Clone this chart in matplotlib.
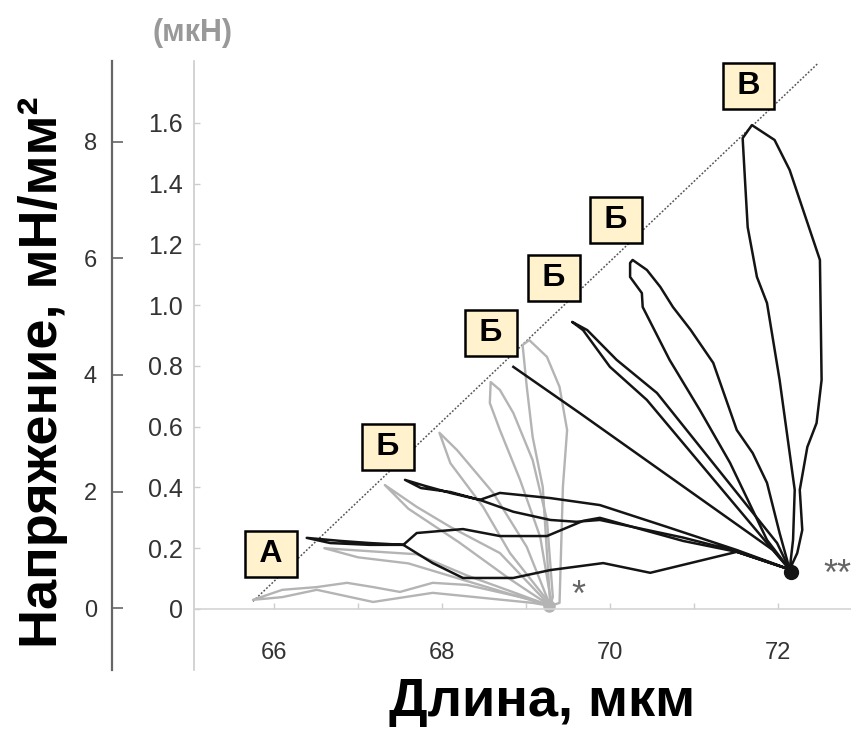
import matplotlib
matplotlib.use('Agg')
import matplotlib.pyplot as plt

plt.rcParams['font.family'] = ['Liberation Sans', 'DejaVu Sans']

# length (мкм) / force (мкН) loops, all start and end at the isometric point
# grey: series ending at 69.3 мкм
g1_len = [69.29, 69.08, 68.30, 67.89, 67.50, 67.18, 66.87, 66.51, 66.10, 65.75,
          66.10, 66.51, 67.18, 67.89, 69.08, 69.29]
g1_force = [0.01, 0.030, 0.079, 0.086, 0.056, 0.072, 0.086, 0.072, 0.063, 0.030,
            0.039, 0.063, 0.023, 0.053, 0.020, 0.01]
g2_len = [69.29, 68.90, 68.30, 67.70, 67.14, 66.60, 67.00, 67.60, 68.20, 68.80, 69.29]
g2_force = [0.01, 0.05, 0.11, 0.18, 0.19, 0.20, 0.17, 0.15, 0.10, 0.05, 0.01]
g3_len = [69.29, 68.69, 68.10, 67.70, 67.32, 67.60, 68.20, 68.80, 69.29]
g3_force = [0.01, 0.184, 0.270, 0.336, 0.408, 0.33, 0.22, 0.10, 0.01]
g4_len = [69.29, 69.01, 68.61, 68.18, 67.97, 68.10, 68.49, 68.81, 69.25, 69.29]
g4_force = [0.01, 0.204, 0.382, 0.523, 0.58, 0.48, 0.336, 0.184, 0.03, 0.01]
g5_len = [69.29, 69.32, 69.25, 69.08, 68.85, 68.69, 68.58, 68.57, 68.69, 68.93, 69.17, 69.29]
g5_force = [0.01, 0.04, 0.293, 0.490, 0.645, 0.721, 0.747, 0.678, 0.589, 0.425, 0.237, 0.04]
g6_len = [69.29, 69.40, 69.44, 69.49, 69.40, 69.25, 69.04, 68.96, 69.01, 69.08, 69.20, 69.25, 69.29]
g6_force = [0.01, 0.02, 0.402, 0.589, 0.731, 0.830, 0.885, 0.869, 0.731, 0.566, 0.402, 0.184, 0.01]

# black: series ending at 72.15 мкм
a_len = [72.14, 71.51, 70.48, 69.92, 69.29, 68.85, 68.25, 67.89, 67.54, 67.14, 66.79, 66.39,
         66.67, 67.14, 67.54, 67.70, 68.25, 68.69, 69.25, 69.68, 69.88, 70.87, 71.51, 72.14]
a_force = [0.13, 0.188, 0.119, 0.151, 0.128, 0.102, 0.102, 0.151, 0.211, 0.217, 0.224, 0.234,
           0.217, 0.211, 0.211, 0.250, 0.263, 0.240, 0.240, 0.290, 0.300, 0.224, 0.188, 0.13]
b1_len = [72.14, 71.51, 70.68, 69.88, 69.29, 68.69, 68.45, 68.10, 67.80, 67.56,
          67.75, 68.10, 68.45, 68.85, 69.29, 69.60, 69.88, 70.87, 71.51, 72.14]
b1_force = [0.13, 0.194, 0.270, 0.342, 0.365, 0.382, 0.359, 0.382, 0.405, 0.425,
            0.398, 0.385, 0.359, 0.320, 0.293, 0.287, 0.293, 0.235, 0.190, 0.13]
b2_len = [68.85, 69.64, 71.94, 72.14]
b2_force = [0.797, 0.645, 0.194, 0.13]
b3_len = [72.14, 71.99, 70.56, 70.08, 69.73, 69.55, 69.68, 70.00, 70.44, 71.87, 72.14]
b3_force = [0.13, 0.217, 0.711, 0.820, 0.918, 0.945, 0.918, 0.797, 0.688, 0.217, 0.13]
b4_len = [72.14, 72.02, 71.87, 71.70, 71.51, 71.23, 70.96, 70.75, 70.60, 70.44, 70.27,
          70.24, 70.24, 70.38, 70.39, 70.71, 71.07, 71.43, 71.87, 72.14]
b4_force = [0.13, 0.250, 0.415, 0.513, 0.589, 0.810, 0.919, 0.994, 1.060, 1.116, 1.149,
            1.139, 1.093, 1.040, 0.994, 0.820, 0.655, 0.481, 0.227, 0.13]
v_len = [72.14, 72.23, 72.29, 72.26, 72.35, 72.46, 72.52, 72.50, 72.14, 71.96, 71.69,
         71.58, 71.61, 71.64, 71.75, 71.87, 72.02, 72.20, 72.18, 72.14]
v_force = [0.13, 0.184, 0.260, 0.392, 0.533, 0.612, 0.754, 1.149, 1.445, 1.544, 1.593,
           1.550, 1.402, 1.257, 1.093, 1.007, 0.754, 0.392, 0.227, 0.13]

# peak labels
peak_names = ['А', 'Б', 'Б', 'Б', 'Б', 'В']
peak_len = [65.96, 67.36, 68.58, 69.33, 70.07, 71.65]
peak_force = [0.181, 0.533, 0.908, 1.090, 1.280, 1.722]

# dotted line through the peaks
diag_len = [65.75, 72.48]
diag_force = [0.025, 1.797]

force_ticks = [0, 0.2, 0.4, 0.6, 0.8, 1.0, 1.2, 1.4, 1.6]
force_labels = ['0', '0.2', '0.4', '0.6', '0.8', '1.0', '1.2', '1.4', '1.6']
stress_ticks = [0, 2, 4, 6, 8]
len_ticks = [66, 68, 70, 72]
len_minor = [67, 69, 71]

W, H = 851, 729
fig = plt.figure(figsize=(W / 100, H / 100), dpi=100)
rect = [194 / W, 1 - 670 / H, 1 - 194 / W, (670 - 61) / H]
ax = fig.add_axes(rect)
ax.set_xlim(65.048, 72.87)
ax.set_ylim(-0.201, 1.804)

grey = '#b4b4b4'
for xs, ys in [(g1_len, g1_force), (g2_len, g2_force), (g3_len, g3_force),
               (g4_len, g4_force), (g5_len, g5_force), (g6_len, g6_force)]:
    ax.plot(xs, ys, color=grey, lw=1.7, solid_joinstyle='round', zorder=2)
ax.plot([69.28], [0.01], 'o', color=grey, ms=8, zorder=2)

for xs, ys in [(a_len, a_force), (b1_len, b1_force), (b2_len, b2_force),
               (b3_len, b3_force), (b4_len, b4_force), (v_len, v_force)]:
    ax.plot(xs, ys, color='#141414', lw=1.8, solid_joinstyle='round', zorder=3)
ax.plot([72.15], [0.12], 'o', color='#141414', ms=10, zorder=3)

ax.plot(diag_len, diag_force, color='#555555', lw=1.1, ls=(0, (1.2, 1.2)), zorder=1)

for s, x, y in zip(peak_names, peak_len, peak_force):
    ax.text(x, y, '\u2009' + s + '\u2009', ha='center', va='center', fontsize=23,
            fontweight='bold', color='black', zorder=5,
            bbox=dict(boxstyle='square,pad=0.25', fc='#FFF2CC', ec='black', lw=1.8))

ax.text(69.62, 0.04, '*', ha='center', va='center', fontsize=26, color='#666666')
ax.text(72.71, 0.11, '**', ha='center', va='center', fontsize=26, color='#666666',
        clip_on=False)

# inner axes: force
for side in ['top', 'right']:
    ax.spines[side].set_visible(False)
ax.spines['bottom'].set_position(('data', 0))
ax.spines['bottom'].set_color('#d4d4d4')
ax.spines['bottom'].set_linewidth(1.2)
ax.spines['left'].set_color('#cccccc')
ax.spines['left'].set_linewidth(1.2)
ax.set_xticks(len_ticks)
ax.set_xticks(len_minor, minor=True)
ax.set_xticklabels([str(t) for t in len_ticks])
ax.tick_params(axis='x', which='both', direction='in', length=4, width=1,
               color='#cccccc', labelcolor='#333333', labelsize=17, pad=24)
ax.set_yticks(force_ticks)
ax.set_yticklabels(force_labels)
ax.tick_params(axis='y', direction='in', length=4, width=1, color='#cccccc',
               labelcolor='#333333', labelsize=18, pad=8)

# outer axis: stress
ax2 = fig.add_axes(rect, facecolor='none')
ax2.set_ylim(-1.064, 9.39)
ax2.set_xticks([])
for side in ['top', 'right', 'bottom']:
    ax2.spines[side].set_visible(False)
ax2.spines['left'].set_position(('outward', 59))
ax2.spines['left'].set_color('#666666')
ax2.spines['left'].set_linewidth(1.6)
ax2.set_yticks(stress_ticks)
ax2.tick_params(axis='y', direction='in', length=8, width=1.2, color='#666666',
                labelcolor='#333333', labelsize=17, pad=11)

fig.text(193 / W, 1 - 33 / H, '(мкН)', ha='center', va='center', fontsize=22,
         fontweight='bold', color='#999999')
fig.text(43 / W, 1 - 372 / H, 'Напряжение, мН/мм²', rotation=90, ha='center',
         va='center', fontsize=39, fontweight='bold', color='black')
fig.text(542 / W, 1 - 716 / H, 'Длина, мкм', ha='center', va='baseline',
         fontsize=39, fontweight='bold', color='black')

fig.savefig('out.png', dpi=100)
